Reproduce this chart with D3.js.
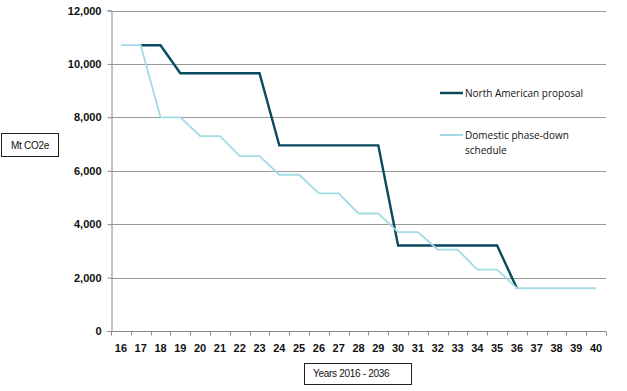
<!DOCTYPE html>
<html>
<head>
<meta charset="utf-8">
<script src="https://cdn.jsdelivr.net/npm/d3@7"></script>
<style>
  body { margin: 0; background: #fff; }
</style>
</head>
<body>
<div id="chart"></div>
<script>
// chart data (null where the series is hidden under the other line)
var years = ["16","17","18","19","20","21","22","23","24","25","26","27","28","29","30","31","32","33","34","35","36","37","38","39","40"];
var northAmerican = [null,10700,10700,9650,9650,9650,9650,9650,6950,6950,6950,6950,6950,6950,3200,3200,3200,3200,3200,3200,1600,null,null,null,null];
var domestic = [10700,10700,8000,8000,7300,7300,6550,6550,5850,5850,5150,5150,4400,4400,3700,3700,3050,3050,2300,2300,1600,1600,1600,1600,1600];
var yTicks = [0, 2000, 4000, 6000, 8000, 10000, 12000];
var seriesNames = ["North American proposal", "Domestic phase-down schedule"];

var width = 627, height = 391;
var margin = {top: 10, right: 21, bottom: 60, left: 111};

var svg = d3.select("#chart")
    .append("svg")
    .attr("width", width)
    .attr("height", height);

var x = d3.scaleBand()
    .domain(years)
    .range([margin.left, width - margin.right]);

var y = d3.scaleLinear()
    .domain([0, 12000])
    .range([height - margin.bottom, margin.top + 0.5]);

// gridlines
svg.append("g")
    .selectAll("line")
    .data(yTicks.slice(1))
    .enter().append("line")
    .attr("x1", margin.left)
    .attr("x2", width - margin.right)
    .attr("y1", function (d) { return Math.round(y(d)) + 0.5; })
    .attr("y2", function (d) { return Math.round(y(d)) + 0.5; })
    .attr("stroke", "#9a9a9a")
    .attr("stroke-width", 1);

// y axis
var yAxis = svg.append("g")
    .attr("transform", "translate(" + (margin.left + 0.5) + ",0)")
    .call(d3.axisLeft(y).tickValues(yTicks).tickSize(4).tickFormat(d3.format(",")));
yAxis.selectAll("line").attr("stroke", "#8a8a8a");
yAxis.select(".domain").attr("stroke", "#8a8a8a");
yAxis.selectAll("text")
    .attr("font-family", "Liberation Sans, Arial, sans-serif")
    .attr("font-size", "11px")
    .attr("font-weight", "bold")
    .attr("fill", "#111")
    .attr("dx", "-3");

// x axis, ticks between categories
var xAxisY = Math.round(y(0)) + 0.5;
var xg = svg.append("g");
xg.append("line")
    .attr("x1", margin.left)
    .attr("x2", width - margin.right)
    .attr("y1", xAxisY)
    .attr("y2", xAxisY)
    .attr("stroke", "#8a8a8a");
xg.selectAll(".tick")
    .data(years.concat(["end"]))
    .enter().append("line")
    .attr("x1", function (d, i) { return Math.round(margin.left + i * x.bandwidth()) + 0.5; })
    .attr("x2", function (d, i) { return Math.round(margin.left + i * x.bandwidth()) + 0.5; })
    .attr("y1", xAxisY)
    .attr("y2", xAxisY + 4)
    .attr("stroke", "#8a8a8a");
xg.selectAll("text")
    .data(years)
    .enter().append("text")
    .attr("x", function (d) { return x(d) + x.bandwidth() / 2; })
    .attr("y", xAxisY + 20)
    .attr("text-anchor", "middle")
    .attr("font-family", "Liberation Sans, Arial, sans-serif")
    .attr("font-size", "11px")
    .attr("font-weight", "bold")
    .attr("fill", "#111")
    .text(function (d) { return d; });

// lines
var line = d3.line()
    .defined(function (d) { return d !== null; })
    .x(function (d, i) { return x(years[i]) + x.bandwidth() / 2; })
    .y(function (d) { return y(d); });

svg.append("path")
    .datum(northAmerican)
    .attr("fill", "none")
    .attr("stroke", "#0a4a5e")
    .attr("stroke-width", 2.4)
    .attr("d", line);

svg.append("path")
    .datum(domestic)
    .attr("fill", "none")
    .attr("stroke", "#a3dbe5")
    .attr("stroke-width", 1.8)
    .attr("d", line);

// legend
var legend = svg.append("g").attr("font-family", "Open Sans, sans-serif").attr("font-size", "10px").attr("fill", "#111");
legend.append("line").attr("x1", 440).attr("x2", 463).attr("y1", 93).attr("y2", 93)
    .attr("stroke", "#0a4a5e").attr("stroke-width", 2.5);
legend.append("text").attr("x", 465).attr("y", 97).text(seriesNames[0]);
legend.append("line").attr("x1", 440).attr("x2", 463).attr("y1", 135).attr("y2", 135)
    .attr("stroke", "#a3dbe5").attr("stroke-width", 2);
legend.append("text").attr("x", 465).attr("y", 139).text("Domestic phase-down");
legend.append("text").attr("x", 465).attr("y", 154).text("schedule");

// axis title boxes
svg.append("rect").attr("x", 1.5).attr("y", 133.5).attr("width", 57).attr("height", 23)
    .attr("fill", "#fff").attr("stroke", "#222").attr("stroke-width", 1);
svg.append("text").attr("x", 30).attr("y", 149).attr("text-anchor", "middle")
    .attr("font-family", "Liberation Sans, Arial, sans-serif").attr("font-size", "10px")
    .attr("letter-spacing", "-0.3px").attr("fill", "#111").text("Mt CO2e");

svg.append("rect").attr("x", 304.5).attr("y", 363.5).attr("width", 107).attr("height", 21)
    .attr("fill", "#fff").attr("stroke", "#222").attr("stroke-width", 1);
svg.append("text").attr("x", 313).attr("y", 377)
    .attr("font-family", "Liberation Sans, Arial, sans-serif").attr("font-size", "10px")
    .attr("letter-spacing", "-0.3px").attr("fill", "#111").text("Years 2016 - 2036");
</script>
</body>
</html>
